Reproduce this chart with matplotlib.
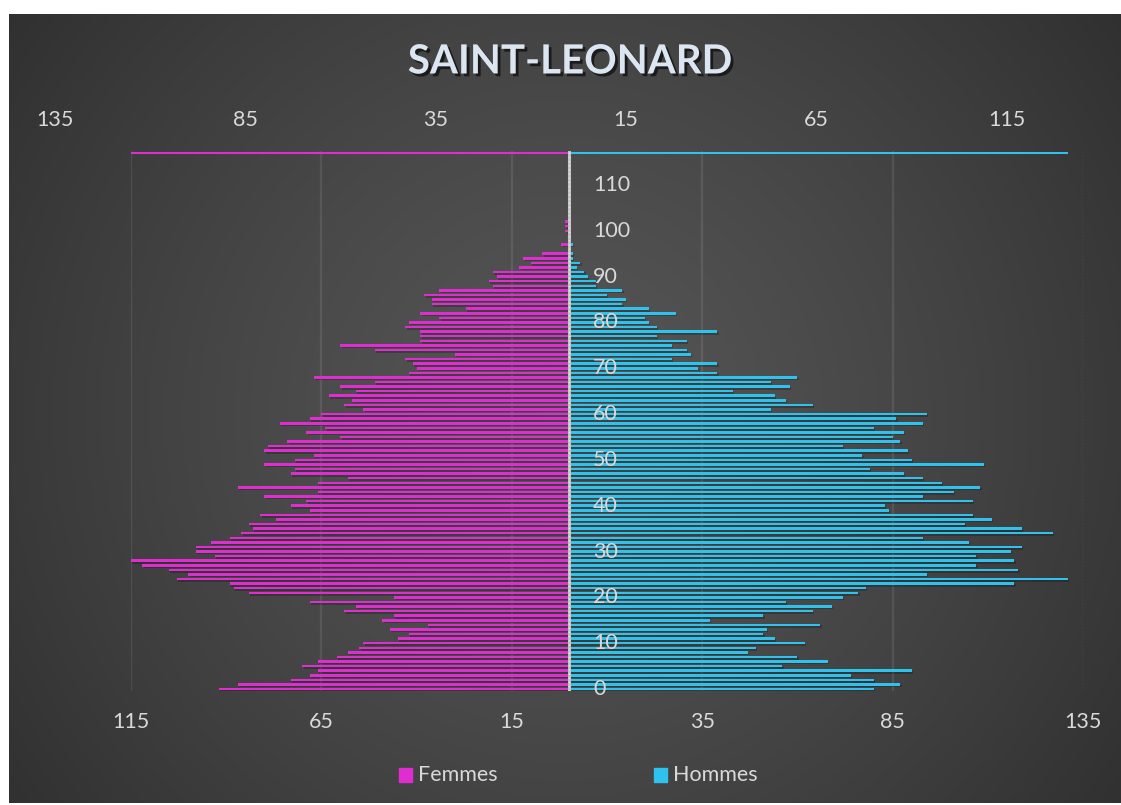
import matplotlib

matplotlib.use("Agg")
import matplotlib.pyplot as plt
import matplotlib.patheffects as pe
import matplotlib.transforms as mtransforms
from matplotlib.patches import Rectangle
import numpy as np

# population by single year of age, 0 .. 102
femmes = [92, 87, 73, 68, 66, 70, 66, 61, 58, 55,
          54, 45, 42, 47, 37, 49, 46, 59, 56, 68,
          46, 84, 88, 89, 103, 100, 105, 112, 115, 93,
          98, 98, 94, 89, 86, 83, 84, 77, 81, 68,
          73, 69, 80, 66, 87, 66, 58, 73, 72, 80,
          72, 67, 80, 79, 74, 60, 69, 64, 76, 68,
          65, 54, 59, 57, 63, 56, 60, 51, 67, 42,
          40, 41, 43, 30, 51, 60, 39, 39, 39, 43,
          42, 34, 39, 27, 36, 36, 38, 34, 20, 21,
          19, 20, 13, 10, 12, 7, 0, 2, 0, 0,
          1, 1, 1]
hommes = [80, 87, 80, 74, 90, 56, 68, 60, 47, 49,
          62, 54, 51, 52, 66, 37, 51, 64, 69, 57,
          72, 76, 78, 117, 131, 94, 118, 107, 117, 107,
          116, 119, 105, 93, 127, 119, 104, 111, 106, 84,
          83, 106, 93, 101, 108, 98, 93, 88, 79, 109,
          90, 77, 89, 72, 87, 85, 88, 80, 93, 86,
          94, 53, 64, 57, 54, 43, 58, 53, 60, 39,
          34, 39, 27, 32, 31, 27, 31, 23, 39, 23,
          21, 20, 28, 21, 14, 15, 10, 14, 7, 7,
          5, 4, 2, 3, 1, 1, 0, 1, 0, 0,
          0, 0, 0]
ages = list(range(len(femmes)))
max_age = 117                      # helper row holding each series' maximum
age_labels = list(range(0, 111, 10))
bottom_ticks = [-115, -65, -15, 35, 85, 135]
top_ticks = [-135, -85, -35, 15, 65, 115]

MAG = "#E02DD2"
CYA = "#2EC3EF"
TXT = "#D9D9D9"
FONT = ["Lato", "DejaVu Sans"]
FS = 15.5
W, H = 1121, 805

fig = plt.figure(figsize=(W / 100, H / 100), dpi=100, facecolor="white")

# dark radial-gradient panel
bg = fig.add_axes([9 / W, 2 / H, 1 - 9 / W, 1 - 16 / H])
bg.axis("off")
pw, ph = W - 9, H - 16
yy, xx = np.mgrid[0:ph, 0:pw]
r = np.hypot(xx - 555, yy - 400) / 700
val = np.clip(0.335 - 0.15 * r ** 1.3, 0.16, 1)
bg.imshow(np.dstack([val, val, val]), aspect="auto", origin="upper",
          extent=[0, pw, ph, 0], interpolation="bilinear")
bg.set_xlim(0, pw); bg.set_ylim(ph, 0)

ax = fig.add_axes([131 / W, 1 - 691.3 / H, 952 / W, 540.7 / H])
ax.patch.set_alpha(0)
for s in ax.spines.values():
    s.set_visible(False)
ax.set_xticks([]); ax.set_yticks([])
ax.set_xlim(-115, 135)
ax.set_ylim(-0.5, max_age + 0.5)

for g in bottom_ticks[:-1]:
    ax.axvline(g, color="#FFFFFF", alpha=0.09, lw=1.6, zorder=1)
ax.axvline(135, color="#6A6A6A", lw=1, ls=(0, (1, 1.5)), zorder=1)

shadow = [pe.SimplePatchShadow(offset=(1, -1.2), shadow_rgbFace="black", alpha=0.22), pe.Normal()]
ax.barh(ages, [-v for v in femmes], height=0.55, color=MAG, zorder=3, path_effects=shadow)
ax.barh(ages, hommes, height=0.55, color=CYA, zorder=3, path_effects=shadow)
ax.barh([max_age], [-max(femmes)], height=0.55, color=MAG, zorder=3)
ax.barh([max_age], [max(hommes)], height=0.55, color=CYA, zorder=3)

ax.axvline(0, color="#C4C4C4", lw=2.2, zorder=4)
ax.axvline(0, color="#E8E8E8", lw=1.0, ls=(0, (1, 2)), zorder=4)

# age labels right of the centre line
off = mtransforms.ScaledTranslation(24 / 100, 0, fig.dpi_scale_trans)
for a in age_labels:
    ax.text(0, a, str(a), transform=ax.transData + off, ha="left", va="center",
            color=TXT, fontsize=FS, family=FONT, zorder=5)

tb = mtransforms.blended_transform_factory(ax.transData, fig.transFigure)
for t in bottom_ticks:
    ax.text(t, 1 - 722 / H, str(abs(t)), transform=tb, ha="center", va="center",
            color=TXT, fontsize=FS, family=FONT)
for t in top_ticks:
    ax.text(t, 1 - 120 / H, str(abs(t)), transform=tb, ha="center", va="center",
            color=TXT, fontsize=FS, family=FONT)

fig.text(570 / W, 1 - 62 / H, "SAINT-LEONARD", ha="center", va="center",
         fontsize=29, fontweight="bold", color="#DCE6F2", family=FONT,
         path_effects=[pe.withSimplePatchShadow(offset=(2, -2), shadow_rgbFace="black", alpha=0.6)])

# legend
for x0, col, lab in [(399, MAG, "Femmes"), (654, CYA, "Hommes")]:
    fig.add_artist(Rectangle((x0 / W, 1 - 782 / H), 13 / W, 14 / H, color=col,
                             transform=fig.transFigure))
    fig.text((x0 + 19) / W, 1 - 775 / H, lab, ha="left", va="center",
             color=TXT, fontsize=FS, family=FONT)

fig.savefig("out.png", dpi=100, facecolor="white")
